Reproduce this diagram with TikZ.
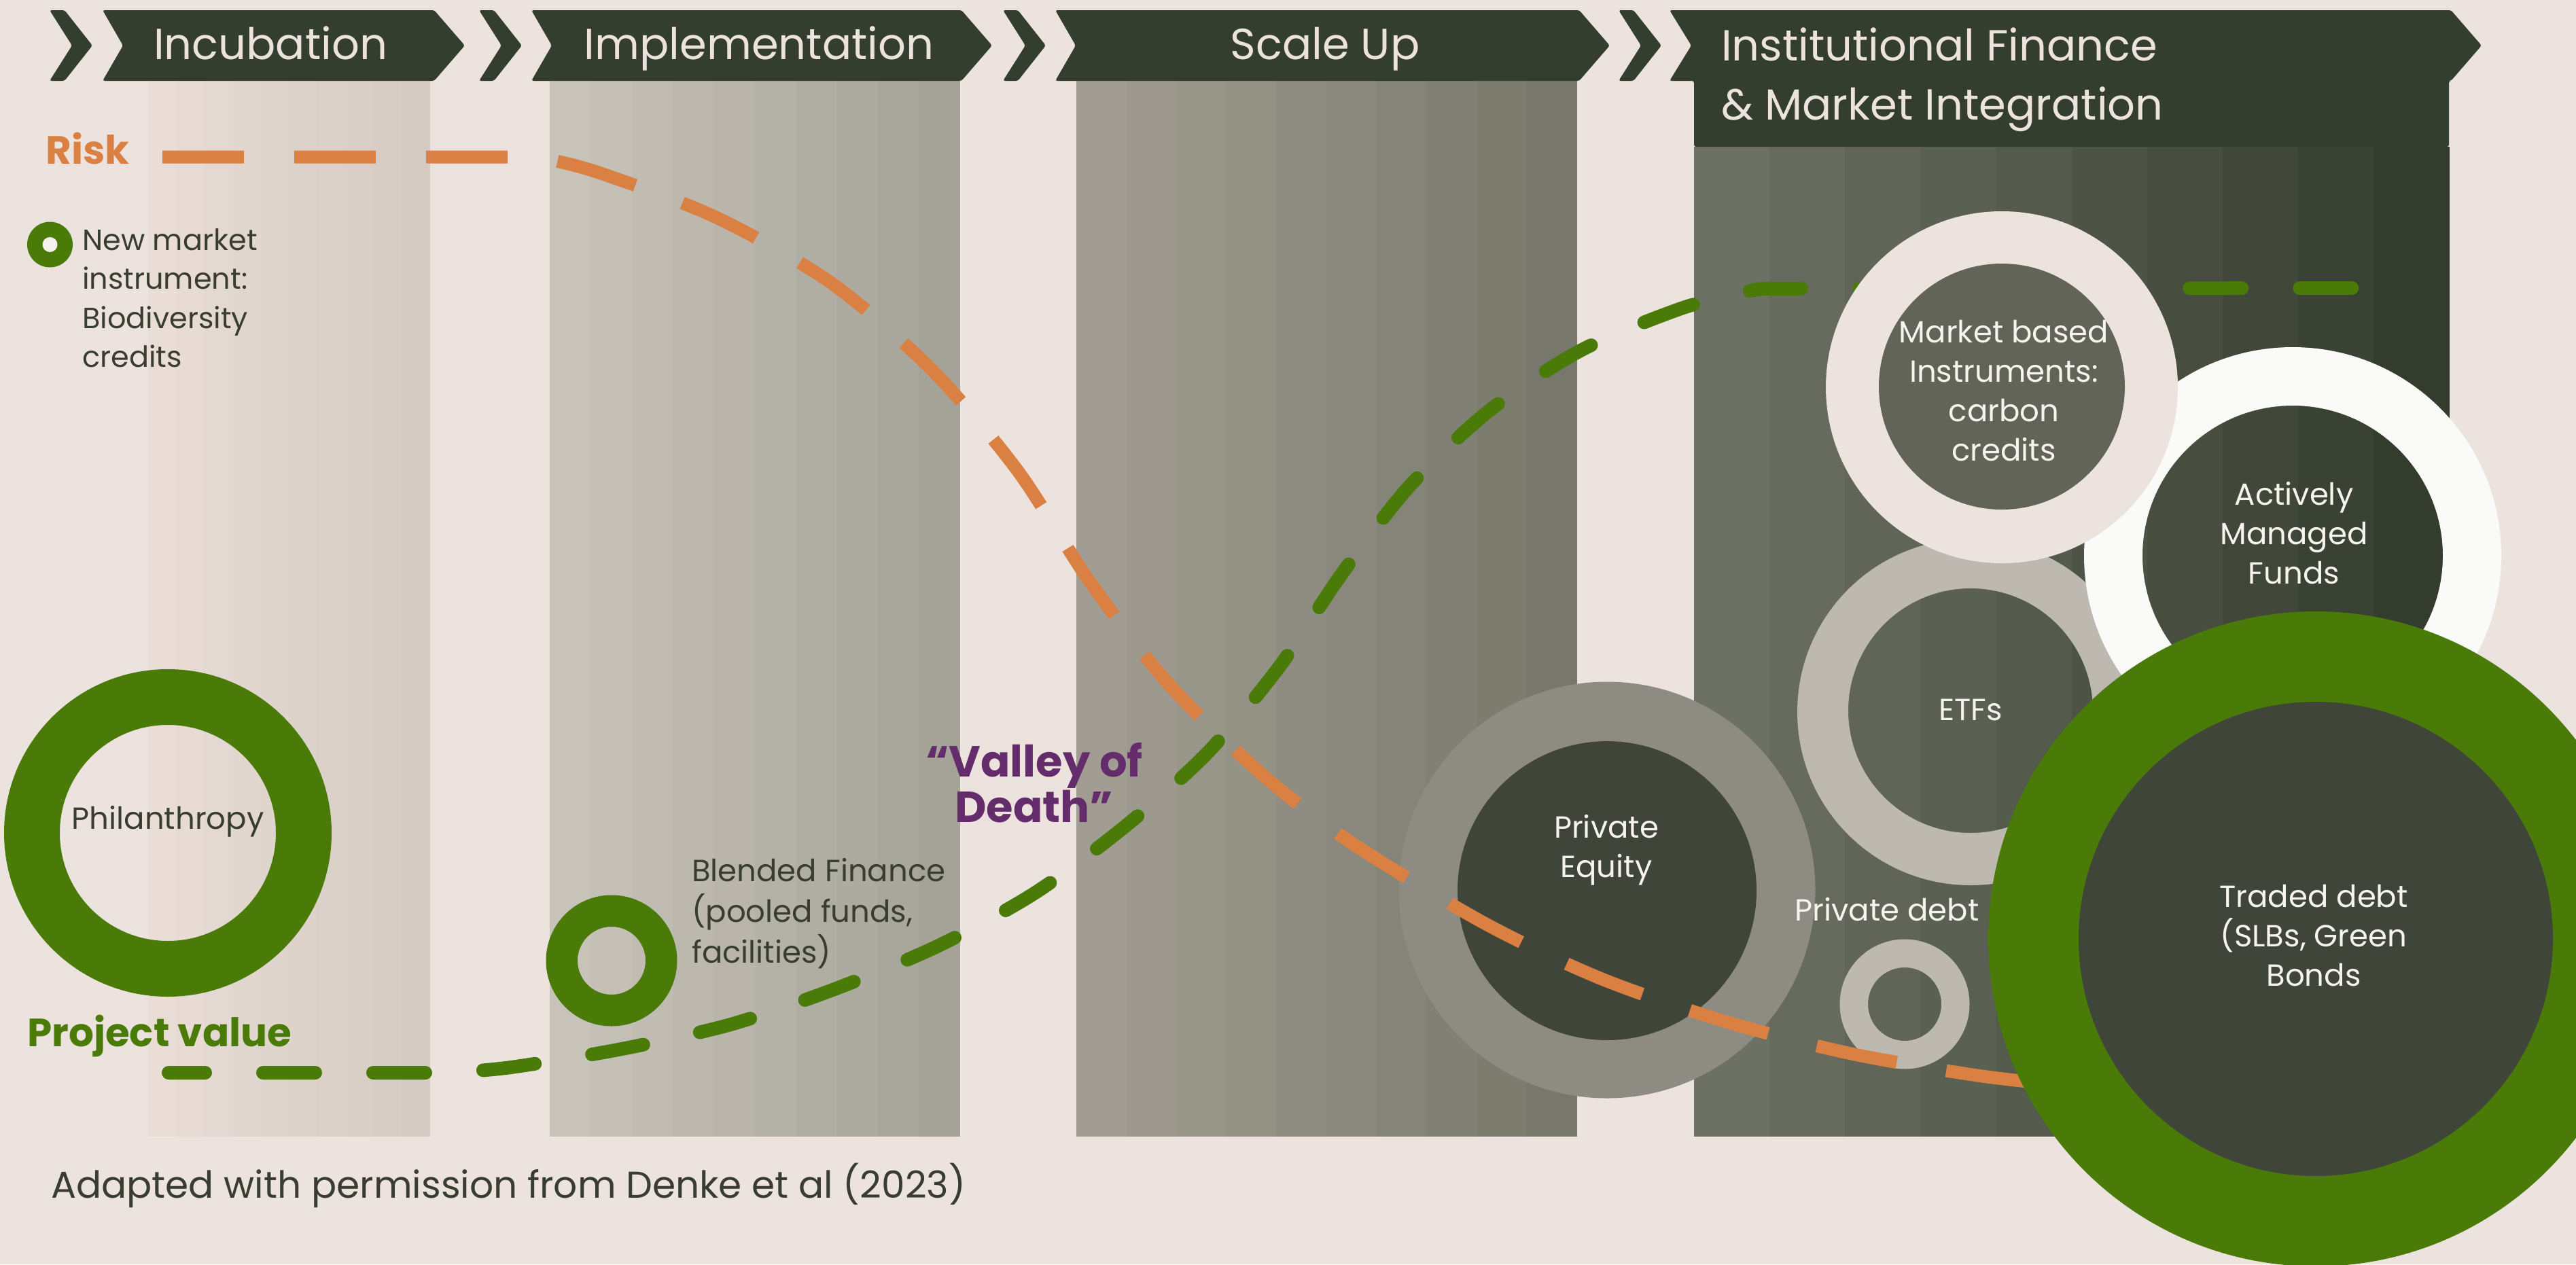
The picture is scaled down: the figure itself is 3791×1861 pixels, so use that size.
\documentclass[tikz,border=0pt]{standalone}
\usepackage{fontspec}
\setmainfont{Poppins}
\definecolor{bg}{HTML}{EDE3DE}
\definecolor{hdr}{HTML}{343E2E}
\definecolor{orng}{HTML}{DB8043}
\definecolor{grn}{HTML}{4A7A08}
\definecolor{purp}{HTML}{652C6C}
\definecolor{txtd}{HTML}{383D30}
\definecolor{txtw}{HTML}{F7F4F0}
\definecolor{legin}{HTML}{F6F2EE}
\definecolor{c1l}{HTML}{E9DDD6}
\definecolor{c1r}{HTML}{D5CBC2}
\definecolor{c2l}{HTML}{C8C3B9}
\definecolor{c2r}{HTML}{A5A398}
\definecolor{c3l}{HTML}{A29D92}
\definecolor{c3r}{HTML}{77786B}
\definecolor{c4l}{HTML}{6D7163}
\definecolor{c4r}{HTML}{343C2E}
\definecolor{pering}{HTML}{8E8C82}
\definecolor{darkin}{HTML}{40453A}
\definecolor{greyring}{HTML}{BDB8B0}
\definecolor{mktin}{HTML}{616457}
\definecolor{whitering}{HTML}{FAFBF8}
\newcommand{\colbands}[6]{%
  \foreach \k in {0,...,9}{%
    \pgfmathsetmacro{\xa}{#1+(#2-#1)*\k/10}%
    \pgfmathsetmacro{\xb}{#1+(#2-#1)*(\k+1)/10+0.6}%
    \pgfmathtruncatemacro{\pc}{round(100*\k/9)}%
    \fill[#6!\pc!#5] (\xa,#3) rectangle (\xb,#4);%
  }}
\newcommand{\chev}[1]{%
  \fill[hdr, rounded corners=3pt] (#1,15) -- (#1+22,15) -- (#1+63,67) -- (#1+22,119) -- (#1,119) -- (#1+33,67) -- cycle;}
\newcommand{\banner}[2]{%
  \fill[hdr, rounded corners=3pt] (#1,15) -- (#2,15) -- (#2+45,67) -- (#2,119) -- (#1,119) -- (#1+30,67) -- cycle;}
\begin{document}
\begin{tikzpicture}[x=1pt,y=-1pt,
  hdrtext/.style={text=bg,font=\fontsize{64}{86}\selectfont,inner sep=0pt},
  bodytxt/.style={text=txtd,font=\fontsize{45}{59}\selectfont,inner sep=0pt},
  whitetxt/.style={text=txtw,font=\fontsize{45}{58}\selectfont,inner sep=0pt,align=center},
  boldlabel/.style={font=\bfseries\fontsize{58}{60}\selectfont,inner sep=0pt},
  riskline/.style={orng,line width=19pt,dash pattern=on 120pt off 74pt},
  valueline/.style={grn,line width=20pt,line cap=round,dash pattern=on 77pt off 85pt,dash phase=23pt},
]
\useasboundingbox (0,0) rectangle (3791,1861);
\fill[bg] (0,0) rectangle (3791,1861);
\clip (0,0) rectangle (3791,1861);

% columns
\colbands{218}{632}{119}{1673}{c1l}{c1r}
\colbands{809}{1412}{119}{1673}{c2l}{c2r}
\colbands{1584}{2320}{119}{1673}{c3l}{c3r}
\colbands{2493}{3604}{216}{1673}{c4l}{c4r}

% header
\chev{73}
\banner{151}{639}
\chev{705}
\banner{782}{1415}
\chev{1476}
\banner{1553}{2324}
\chev{2382}
\fill[hdr, rounded corners=3pt] (2457,15) -- (3607,15) -- (3652,67) -- (3607,119) -- (3604,119) -- (3604,216) -- (2493,216) -- (2493,119) -- (2457,119) -- (2489,67) -- cycle;
\node[hdrtext, anchor=base] (tinc) at (398,87) {Incubation};
\node[hdrtext, anchor=base] (timp) at (1117,87) {Implementation};
\node[hdrtext, anchor=base] (tscale) at (1950,87) {Scale Up};
\node[hdrtext, anchor=base west] (tinst1) at (2533,89) {Institutional Finance};
\node[hdrtext, anchor=base west] (tinst2) at (2533,176) {\& Market Integration};

% labels left
\node[boldlabel, text=orng, anchor=base west] (risk) at (67,241) {Risk};
\node[boldlabel, text=grn, anchor=base west] (pval) at (40,1540) {Project value};

% legend
\fill[grn] (73.5,360) circle[radius=33.5pt];
\fill[legin] (73.5,360) circle[radius=11pt];
\node[bodytxt, font=\fontsize{43}{57.5}\selectfont, anchor=west, align=left] (leg) at (121,439) {New market\\instrument:\\Biodiversity\\credits};

% philanthropy
\fill[grn, even odd rule] (247,1226) circle[radius=241pt] (247,1226) circle[radius=159pt];
\node[bodytxt, anchor=base] (phil) at (247,1220) {Philanthropy};

% blended finance
\fill[grn, even odd rule] (900,1414) circle[radius=96.5pt] (900,1414) circle[radius=50pt];
\node[bodytxt, anchor=west, align=left, font=\fontsize{45}{60}\selectfont] (blend) at (1018,1345) {Blended Finance\\(pooled funds,\\facilities)};

% private equity
\fill[pering] (2365,1310) circle[radius=306.5pt];
\fill[darkin] (2365,1311) circle[radius=220pt];

% ETFs
\fill[greyring, even odd rule] (2900,1048) circle[radius=255pt] (2900,1046) circle[radius=180pt];

% private debt
\fill[greyring, even odd rule] (2803,1478) circle[radius=95.5pt] (2803,1478) circle[radius=54pt];

% curves
\coordinate (riskstart) at (239,231);
\coordinate (valstart) at (248,1579);
\coordinate (valend) at (3496,424);
\draw[riskline] (riskstart) -- (790,231) -- plot[smooth, tension=0.5] coordinates {(790,231) (878,253) (1054,320) (1224,417) (1372,545) (1497,692) (1603,855) (1720,1007) (1860,1142) (1988,1240) (2183,1358) (2355,1440) (2537,1503) (2720,1550) (2917,1584) (3100,1604)};
\draw[valueline] (valstart) -- (660,1579) -- plot[smooth, tension=0.5] coordinates {(660,1579) (752,1571) (915,1544) (1075,1508) (1228,1456) (1379,1393) (1522,1315) (1655,1217) (1777,1108) (1883,981) (1973,847) (2073,717) (2191,605) (2326,516) (2477,453) (2590,425)} -- (valend);

% actively managed funds
\fill[whitering, even odd rule] (3374,818) circle[radius=307pt] (3374,818) circle[radius=221pt];
% market based
\fill[bg] (2946,570) circle[radius=259pt];
\fill[mktin] (2946,569) circle[radius=181pt];
% traded debt
\fill[grn] (3408,1382) circle[radius=482pt];
\fill[darkin] (3408,1382) circle[radius=349pt];

% circle texts
\node[whitetxt] (pe) at (2364,1251) {Private\\Equity};
\node[whitetxt, anchor=base] (etf) at (2900,1060) {ETFs};
\node[whitetxt, anchor=base] (pdebt) at (2777,1355) {Private debt};
\node[whitetxt] (mkt) at (2949,575) {Market based\\Instruments:\\carbon\\credits};
\node[whitetxt] (amf) at (3376,785) {Actively\\Managed\\Funds};
\node[whitetxt] (tdebt) at (3405,1377) {Traded debt\\(SLBs, Green\\Bonds};

% valley of death
\node[text=purp, font=\bfseries\fontsize{64}{67}\selectfont, align=center, inner sep=0pt] (valley) at (1522,1152) {“Valley of\\Death”};

% caption
\node[bodytxt, font=\fontsize{55}{60}\selectfont, anchor=base west] (caption) at (75,1763) {Adapted with permission from Denke et al (2023)};
\end{tikzpicture}
\end{document}
